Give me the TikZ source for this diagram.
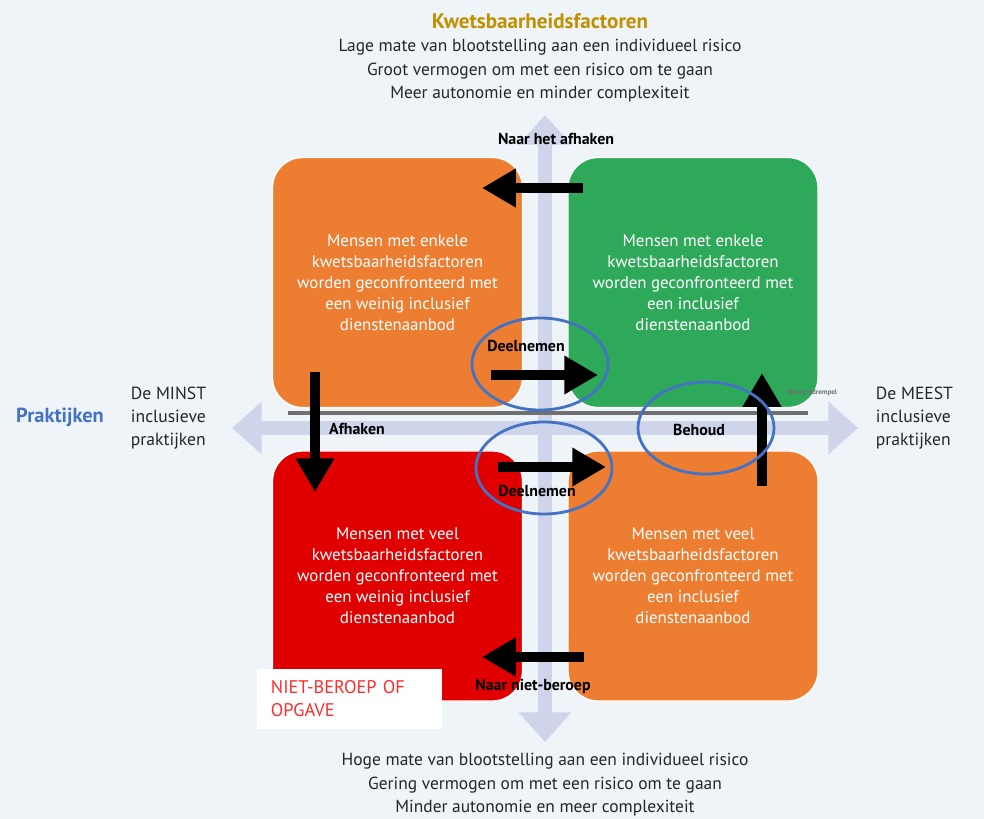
\documentclass[tikz,border=0pt]{standalone}
\usepackage{fontspec}
\setmainfont{PT Sans}
\usetikzlibrary{arrows.meta,shapes.geometric}

\definecolor{bgblue}{HTML}{EFF4F9}
\definecolor{axisgrey}{HTML}{CED4E9}
\definecolor{quadorange}{HTML}{ED7D31}
\definecolor{quadgreen}{HTML}{2EA95A}
\definecolor{quadred}{HTML}{E00000}
\definecolor{ringblue}{HTML}{4472C4}
\definecolor{titlegold}{HTML}{BF9000}
\definecolor{linegrey}{HTML}{707070}
\definecolor{optred}{HTML}{FF2B2B}

\tikzset{
  quad/.style={draw=white, line width=1pt, rounded corners=0.75cm, minimum width=6.25cm, minimum height=6.25cm, text=white, align=center, font=\fontsize{12}{15}\selectfont},
  axisarrow/.style={axisgrey, line width=10pt, {Triangle[length=21pt,width=36pt]}-{Triangle[length=21pt,width=36pt]}},
  fatarrow/.style={black, line width=7.5pt, -{Triangle[length=24pt,width=26pt]}},
  oval/.style={draw=ringblue, line width=2pt, ellipse, minimum width=3.4cm, minimum height=2.3cm},
  lbl/.style={font=\bfseries\fontsize{11.3}{13}\selectfont},
  side/.style={align=left, anchor=west, text=black!85, font=\fontsize{12.5}{16.4}\selectfont},
}

\begin{document}
\begin{tikzpicture}[x=0.025cm,y=-0.025cm]
\useasboundingbox (0,0) rectangle (984,819);
\fill[bgblue] (0,0) rectangle (984,819);

% axes
\coordinate (axN) at (545,115);
\coordinate (axS) at (545,742);
\coordinate (axW) at (232,428);
\coordinate (axE) at (858,428);
\draw[axisarrow] (axN) -- (axS);
\draw[axisarrow] (axW) -- (axE);

% threshold
\coordinate (thrW) at (288,413);
\coordinate (thrE) at (808,413);
\draw[linegrey, line width=2.8pt] (thrW) -- (thrE);

% quadrants
\node[quad, fill=quadorange] (qTL) at (397.5,282.5) {Mensen met enkele\\kwetsbaarheidsfactoren\\worden geconfronteerd met\\een weinig inclusief\\dienstenaanbod};
\node[quad, fill=quadgreen] (qTR) at (693,282.5) {Mensen met enkele\\kwetsbaarheidsfactoren\\worden geconfronteerd met\\een inclusief\\dienstenaanbod};
\node[quad, fill=quadred] (qBL) at (397.5,576) {Mensen met veel\\kwetsbaarheidsfactoren\\worden geconfronteerd met\\een weinig inclusief\\dienstenaanbod};
\node[quad, fill=quadorange] (qBR) at (693,576) {Mensen met veel\\kwetsbaarheidsfactoren\\worden geconfronteerd met\\een inclusief\\dienstenaanbod};
\node[text=linegrey, font=\bfseries\fontsize{5}{6}\selectfont] (drempel) at (812,393) {Welzijnsdrempel};

% option box
\node[fill=white, minimum width=4.625cm, minimum height=1.5cm, text width=3.925cm, inner xsep=0.35cm, align=left, text=optred, font=\fontsize{13}{16.4}\selectfont] (opgave) at (349.5,699) {NIET-BEROEP OF\\OPGAVE};

% moves
\coordinate (afhS) at (583,188);
\coordinate (afhE) at (482,188);
\coordinate (dlnTS) at (491,375);
\coordinate (dlnTE) at (598,375);
\coordinate (dlnBS) at (498,467);
\coordinate (dlnBE) at (606,467);
\coordinate (dwnS) at (315,372);
\coordinate (dwnE) at (315,492);
\coordinate (bhdS) at (762,486);
\coordinate (bhdE) at (762,373);
\coordinate (nbrS) at (584,657);
\coordinate (nbrE) at (482,657);
\draw[fatarrow] (afhS) -- (afhE);
\draw[fatarrow] (dlnTS) -- (dlnTE);
\draw[fatarrow] (dlnBS) -- (dlnBE);
\draw[fatarrow] (dwnS) -- (dwnE);
\draw[fatarrow] (bhdS) -- (bhdE);
\draw[fatarrow] (nbrS) -- (nbrE);

\node[lbl] (lAfhTop) at (556,139) {Naar het afhaken};
\node[lbl] (lDlnT) at (526,346) {Deelnemen};
\node[lbl] (lDlnB) at (537,491) {Deelnemen};
\node[lbl] (lAfh) at (357,429) {Afhaken};
\node[lbl] (lBhd) at (699,430) {Behoud};
\node[lbl] (lNbr) at (533,686) {Naar niet-beroep};

% rings
\node[oval] (ovTop) at (540,364) {};
\node[oval] (ovBot) at (544,468) {};
\node[oval] (ovBhd) at (706,428) {};

% titles
\node[text=titlegold, font=\bfseries\fontsize{15}{17}\selectfont] (kwTitle) at (540,21) {Kwetsbaarheidsfactoren};
\node[align=center, text=black!85, font=\fontsize{12.4}{16.7}\selectfont] (kwTop) at (540,71) {Lage mate van blootstelling aan een individueel risico\\Groot vermogen om met een risico om te gaan\\Meer autonomie en minder complexiteit};
\node[align=center, text=black!85, font=\fontsize{12.4}{16.7}\selectfont] (kwBot) at (545,785) {Hoge mate van blootstelling aan een individueel risico\\Gering vermogen om met een risico om te gaan\\Minder autonomie en meer complexiteit};
\node[text=ringblue, font=\bfseries\fontsize{14.5}{16}\selectfont] (prTitle) at (60,417) {Praktijken};
\node[side] (prMin) at (126,418) {De MINST\\inclusieve\\praktijken};
\node[side] (prMax) at (871,418) {De MEEST\\inclusieve\\praktijken};
\end{tikzpicture}
\end{document}
